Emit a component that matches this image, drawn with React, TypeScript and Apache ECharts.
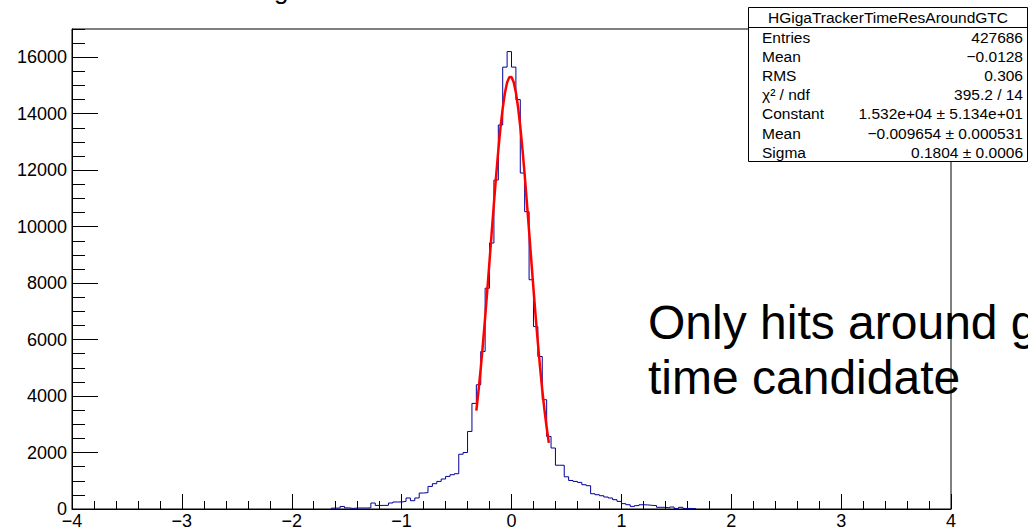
import React, { useEffect, useRef } from 'react';
import * as echarts from 'echarts';

// Histogram: bin counts starting at BIN_LO, bin width BIN_W (all other bins empty)
const BIN_LO = -1.64;
const BIN_W = 0.04;
const counts = [
  30, 35, 90, 40, 20, 35, 35, 35, 40, 212,
  127, 127, 130, 212, 248, 248, 270, 390, 294, 390,
  566, 580, 800, 896, 977, 1062, 1154, 1214, 1250, 1940,
  2000, 2747, 3740, 4400, 5580, 7820, 9420, 11650, 13600, 15650,
  16200,
  15650, 14500, 11900, 10530, 8120, 6460, 5400, 3870, 2570, 2160,
  1550, 1550, 1140, 1010, 977, 942, 860, 825, 540, 506,
  470, 425, 390, 330, 270, 190, 152, 92, 120, 150,
  145, 130, 120, 60, 60, 40, 70, 20, 60, 20,
  20, 10,
];

// Gaussian fit curve
const fitX = [
  -0.32, -0.30, -0.28, -0.26, -0.24, -0.22, -0.20, -0.18, -0.16, -0.14,
  -0.12, -0.10, -0.08, -0.06, -0.04, -0.02, 0.00, 0.02, 0.04, 0.06,
  0.08, 0.10, 0.12, 0.14, 0.16, 0.18, 0.20, 0.22, 0.24, 0.26,
  0.28, 0.30, 0.32, 0.34,
];
const fitY = [
  3488, 4195, 4984, 5849, 6781, 7763, 8780, 9810, 10825, 11801,
  12706, 13514, 14199, 14735, 15104, 15295, 15298, 15115, 14750, 14220,
  13540, 12737, 11833, 10860, 9845, 8815, 7798, 6813, 5880, 5013,
  4222, 3511, 2885, 2342,
];

const statsTitle = 'HGigaTrackerTimeResAroundGTC';
const statsLabels = ['Entries', 'Mean', 'RMS', 'χ² / ndf', 'Constant', 'Mean', 'Sigma'];
const statsValues = [
  '427686',
  '\u22120.0128',
  '0.306',
  '395.2 / 14',
  '1.532e+04 ± 5.134e+01',
  '\u22120.009654 ± 0.000531',
  '0.1804 ± 0.0006',
];
const noteLines = ['Only hits around g', 'time candidate'];
const titleFragment = 'g';

const FONT = '"Liberation Sans", Arial, Helvetica, sans-serif';

export default function App() {
  const ref = useRef<HTMLDivElement>(null);

  useEffect(() => {
    if (!ref.current) return;
    const chart = echarts.init(ref.current, undefined, { renderer: 'svg' });

    const histData: number[][] = [[BIN_LO, 0]];
    counts.forEach((c, i) => histData.push([BIN_LO + i * BIN_W, c]));
    histData.push([BIN_LO + counts.length * BIN_W, 0]);

    const fitData = fitX.map((x, i) => [x, fitY[i]]);

    const graphics: any[] = [];
    // stats box
    graphics.push({
      type: 'rect',
      z: 100,
      shape: { x: 748.5, y: 7.5, width: 279, height: 154 },
      style: { fill: '#fff', stroke: '#000', lineWidth: 1 },
    });
    graphics.push({
      type: 'line',
      z: 101,
      shape: { x1: 748.5, y1: 27.5, x2: 1027.5, y2: 27.5 },
      style: { stroke: '#000', lineWidth: 1 },
    });
    graphics.push({
      type: 'text',
      z: 102,
      style: {
        text: statsTitle, x: 888, y: 17.5, align: 'center', verticalAlign: 'middle',
        fontSize: 15.5, fontFamily: FONT, fill: '#000',
      },
    });
    statsLabels.forEach((lab, i) => {
      const y = 37 + i * 19.2;
      graphics.push({
        type: 'text', z: 102,
        style: { text: lab, x: 762, y, align: 'left', verticalAlign: 'middle', fontSize: 15.5, fontFamily: FONT, fill: '#000' },
      });
      graphics.push({
        type: 'text', z: 102,
        style: { text: statsValues[i], x: 1023, y, align: 'right', verticalAlign: 'middle', fontSize: 15.5, fontFamily: FONT, fill: '#000' },
      });
    });
    noteLines.forEach((t, i) => {
      graphics.push({
        type: 'text', z: 90,
        style: { text: t, x: 648, y: 322 + i * 55, align: 'left', verticalAlign: 'middle', fontSize: 48, fontFamily: FONT, fill: '#000' },
      });
    });
    graphics.push({
      type: 'text', z: 90,
      style: { text: titleFragment, x: 274, y: 3, align: 'left', verticalAlign: 'bottom', fontSize: 26, fontFamily: FONT, fill: '#000' },
    });

    chart.setOption({
      animation: false,
      backgroundColor: '#fff',
      grid: {
        left: 72, right: 77, top: 29, bottom: 22,
        show: true, borderColor: '#000', borderWidth: 1, backgroundColor: 'transparent',
      },
      xAxis: {
        type: 'value', min: -4, max: 4, interval: 1,
        axisLine: { show: true, onZero: false, lineStyle: { color: '#000', width: 1 } },
        axisTick: { show: true, inside: true, length: 15, lineStyle: { color: '#000', width: 1 } },
        minorTick: { show: true, splitNumber: 5, length: 8, lineStyle: { color: '#000', width: 1 } },
        splitLine: { show: false },
        axisLabel: {
          color: '#000', fontSize: 18, fontFamily: FONT, margin: 3,
          formatter: (v: number) => String(v).replace('-', '\u2212'),
        },
      },
      yAxis: [
        {
          type: 'value', min: 0, max: 17000, interval: 500, position: 'left',
          axisLine: { show: true, onZero: false, lineStyle: { color: '#000', width: 1 } },
          axisTick: { show: true, inside: true, length: 13, lineStyle: { color: '#000', width: 1 } },
          splitLine: { show: false },
          axisLabel: { show: false },
        },
        {
          type: 'value', min: 0, max: 17000, interval: 2000, position: 'left', offset: 0,
          axisLine: { show: false, onZero: false },
          axisTick: { show: true, inside: true, length: 26, lineStyle: { color: '#000', width: 1 } },
          splitLine: { show: false },
          axisLabel: {
            color: '#000', fontSize: 18, fontFamily: FONT, margin: 5, showMaxLabel: false,
            formatter: (v: number) => (v > 16000 ? '' : String(v)),
          },
        },
      ],
      series: [
        {
          type: 'line', name: 'hist', yAxisIndex: 0, data: histData, step: 'end',
          symbol: 'none', lineStyle: { color: '#000099', width: 1 }, z: 3,
        },
        {
          type: 'line', name: 'fit', yAxisIndex: 0, data: fitData, smooth: false,
          symbol: 'none', lineStyle: { color: '#ff0000', width: 2.5 }, z: 4,
        },
      ],
      graphic: graphics,
    });

    return () => chart.dispose();
  }, []);

  return (
    <div
      ref={ref}
      style={{ position: 'absolute', left: 0, top: 0, width: 1028, height: 531, background: '#fff' }}
    />
  );
}
